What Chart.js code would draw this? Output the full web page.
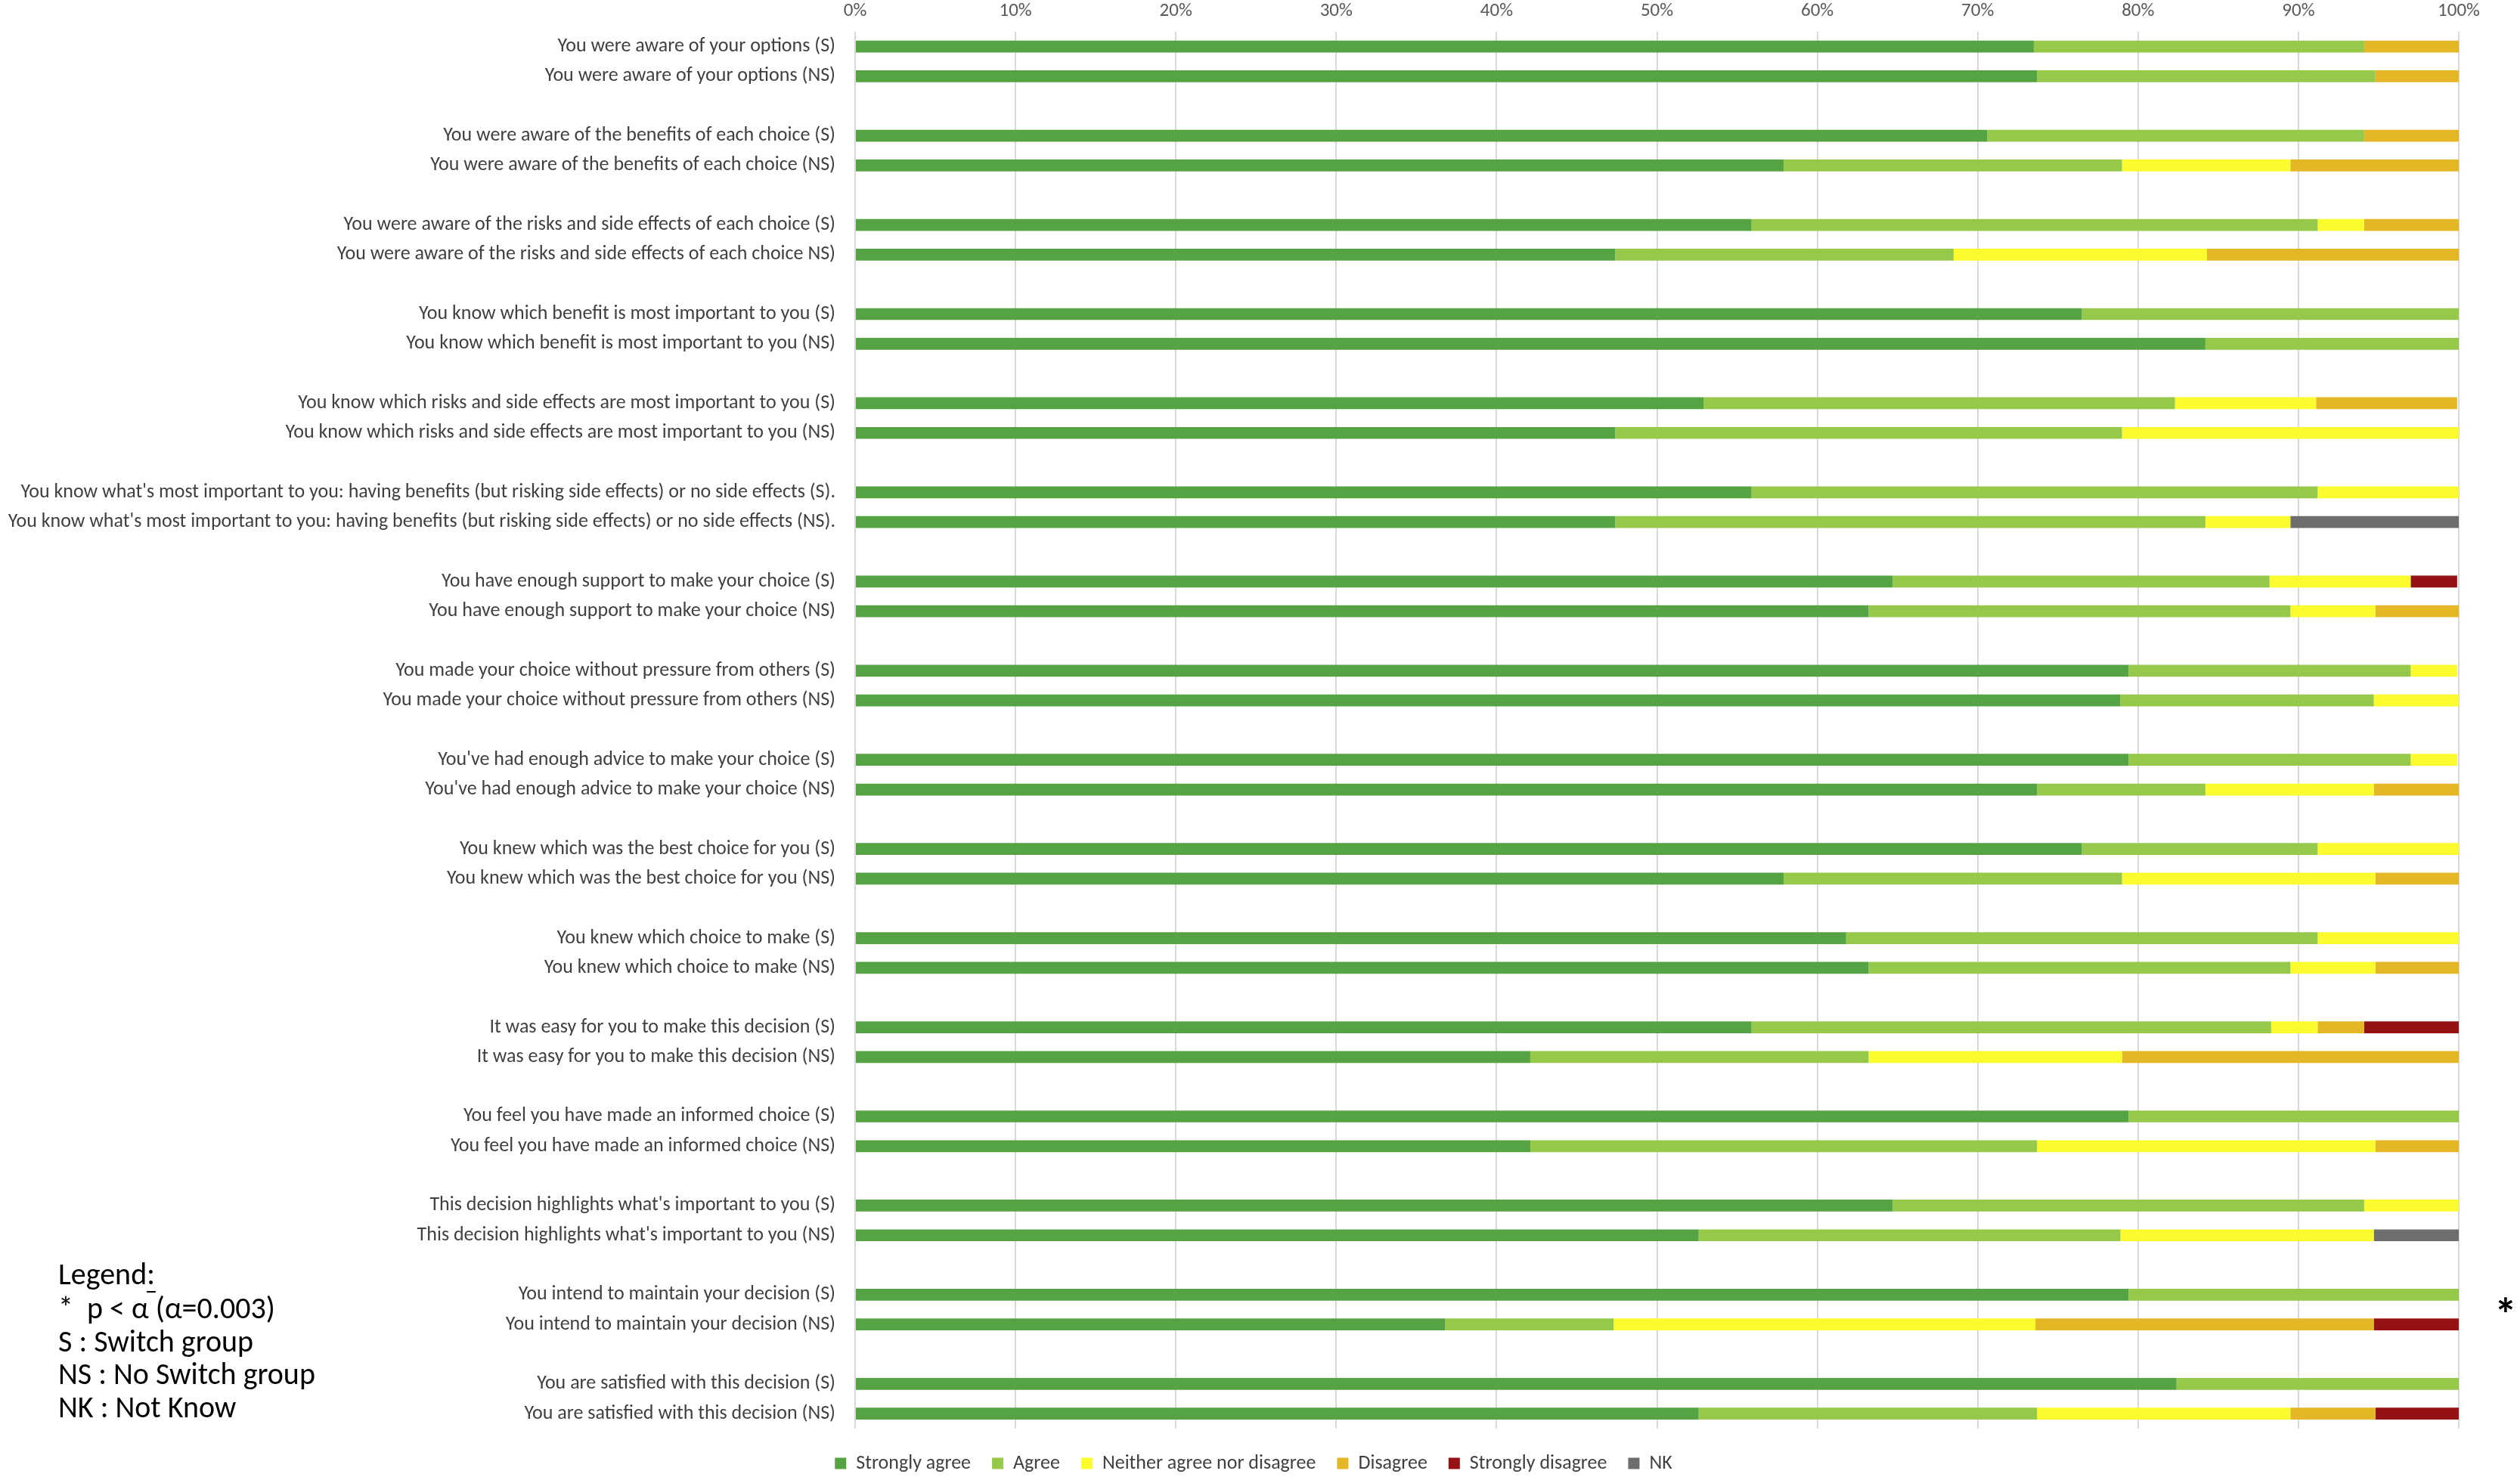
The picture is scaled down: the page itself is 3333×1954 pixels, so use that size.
<!DOCTYPE html>
<html>
<head>
<meta charset="utf-8">
<script src="https://cdn.jsdelivr.net/npm/chart.js@4.4.1/dist/chart.umd.min.js"></script>
<style>
html,body{margin:0;padding:0;background:#fff;}
#wrap{width:3333px;height:1954px;position:relative;}
</style>
</head>
<body>
<div id="wrap"><canvas id="c" width="3333" height="1954"></canvas></div>
<script>
const questions = [
  "You were aware of your options (S)",
  "You were aware of your options (NS)",
  "You were aware of the benefits of each choice (S)",
  "You were aware of the benefits of each choice (NS)",
  "You were aware of the risks and side effects of each choice (S)",
  "You were aware of the risks and side effects of each choice NS)",
  "You know which benefit is most important to you (S)",
  "You know which benefit is most important to you (NS)",
  "You know which risks and side effects are most important to you (S)",
  "You know which risks and side effects are most important to you (NS)",
  "You know what's most important to you: having benefits (but risking side effects) or no side effects (S).",
  "You know what's most important to you: having benefits (but risking side effects) or no side effects (NS).",
  "You have enough support to make your choice (S)",
  "You have enough support to make your choice (NS)",
  "You made your choice without pressure from others (S)",
  "You made your choice without pressure from others (NS)",
  "You've had enough advice to make your choice (S)",
  "You've had enough advice to make your choice (NS)",
  "You knew which was the best choice for you (S)",
  "You knew which was the best choice for you (NS)",
  "You knew which choice to make (S)",
  "You knew which choice to make (NS)",
  "It was easy for you to make this decision (S)",
  "It was easy for you to make this decision (NS)",
  "You feel you have made an informed choice (S)",
  "You feel you have made an informed choice (NS)",
  "This decision highlights what's important to you (S)",
  "This decision highlights what's important to you (NS)",
  "You intend to maintain your decision (S)",
  "You intend to maintain your decision (NS)",
  "You are satisfied with this decision (S)",
  "You are satisfied with this decision (NS)"
];
const seriesNames = ["Strongly agree","Agree","Neither agree nor disagree","Disagree","Strongly disagree","NK"];
const stronglyAgree = [73.5,73.7, 70.6,57.9, 55.9,47.4, 76.5,84.2, 52.9,47.4, 55.9,47.4, 64.7,63.2, 79.4,78.9, 79.4,73.7, 76.5,57.9, 61.8,63.2, 55.9,42.1, 79.4,42.1, 64.7,52.6, 79.4,36.8, 82.4,52.6];
const agree         = [20.6,21.1, 23.5,21.1, 35.3,21.1, 23.5,15.8, 29.4,31.6, 35.3,36.8, 23.5,26.3, 17.6,15.8, 17.6,10.5, 14.7,21.1, 29.4,26.3, 32.4,21.1, 20.6,31.6, 29.4,26.3, 20.6,10.5, 17.6,21.1];
const neither       = [0,0, 0,10.5, 2.9,15.8, 0,0, 8.8,21.1, 8.8,5.3, 8.8,5.3, 2.9,5.3, 2.9,10.5, 8.8,15.8, 8.8,5.3, 2.9,15.8, 0,21.1, 5.9,15.8, 0,26.3, 0,15.8];
const disagree      = [5.9,5.3, 5.9,10.5, 5.9,15.8, 0,0, 8.8,0, 0,0, 0,5.3, 0,0, 0,5.3, 0,5.3, 0,5.3, 2.9,21.1, 0,5.3, 0,0, 0,21.1, 0,5.3];
const stronglyDisagree = [0,0, 0,0, 0,0, 0,0, 0,0, 0,0, 2.9,0, 0,0, 0,0, 0,0, 0,0, 5.9,0, 0,0, 0,0, 0,5.3, 0,5.3];
const notKnow       = [0,0, 0,0, 0,0, 0,0, 0,0, 0,10.5, 0,0, 0,0, 0,0, 0,0, 0,0, 0,0, 0,0, 0,5.3, 0,0, 0,0];
const xTicks = [0,10,20,30,40,50,60,70,80,90,100];
const significantRow = "You intend to maintain your decision (S)";
const legendNotes = ["Legend:", "*  p < \u03b1 (\u03b1=0.003)", "S : Switch group", "NS : No Switch group", "NK : Not Know"];

const colors = ["#56A344","#96C84A","#FBFB2E","#E5B625","#951214","#6E6E6E"];

// Build categories with an empty spacer row between each S/NS pair
const labels = [];
const idxMap = [];
questions.forEach((q,i)=>{
  if (i>0 && i%2===0){ labels.push(""); idxMap.push(-1); }
  labels.push(q); idxMap.push(i);
});
function expand(arr){ return idxMap.map(i => i<0 ? null : arr[i]); }
const allSeries = [stronglyAgree, agree, neither, disagree, stronglyDisagree, notKnow];

const FONT = "Carlito, 'Liberation Sans Narrow', 'Liberation Sans', sans-serif";

const notesPlugin = {
  id:'notes',
  afterDraw(chart){
    const ctx = chart.ctx;
    ctx.save();
    ctx.fillStyle = '#000';
    ctx.font = "40px " + FONT;
    ctx.textBaseline = 'middle';
    ctx.textAlign = 'left';
    const ys = [1689,1734,1778,1821,1865];
    legendNotes.forEach((t,i)=>{ ctx.fillText(t, 77, ys[i]); });
    // underline the colon of "Legend:"
    const wFull = ctx.measureText(legendNotes[0]).width;
    const wNo = ctx.measureText(legendNotes[0].slice(0,-1)).width;
    ctx.fillRect(77 + wNo, ys[0] + 19, wFull - wNo + 1, 2);
    // asterisk next to significant row
    const yScale = chart.scales.y;
    const yi = labels.indexOf(significantRow);
    ctx.font = "bold 60px " + FONT;
    ctx.textAlign = 'center';
    ctx.fillText("*", 3314, yScale.getPixelForValue(yi) + 32);
    ctx.restore();
  }
};

new Chart(document.getElementById('c'), {
  type:'bar',
  data:{
    labels: labels,
    datasets: seriesNames.map((n,k)=>({
      label:n,
      data: expand(allSeries[k]),
      backgroundColor: colors[k],
      borderWidth:0,
      barPercentage:0.4,
      categoryPercentage:1.0
    }))
  },
  options:{
    indexAxis:'y',
    responsive:false,
    animation:false,
    devicePixelRatio:1,
    layout:{padding:{left:0,right:17,top:0,bottom:-5}},
    scales:{
      x:{
        position:'top',
        stacked:true,
        min:0,max:100,
        afterBuildTicks(s){ s.ticks = xTicks.map(v=>({value:v})); },
        afterFit(s){ s.height = 42; },
        ticks:{ callback:v=>v+'%', color:'#595959', font:{family:FONT,size:25}, padding:12 },
        grid:{ color:'#D9D9D9', lineWidth:2, drawTicks:false },
        border:{ display:false }
      },
      y:{
        stacked:true,
        afterFit(s){ s.width = 1131; },
        ticks:{ autoSkip:false, color:'#404040', font:{family:FONT,size:26}, padding:18 },
        grid:{ display:false },
        border:{ display:false }
      },
      yRight:{
        type:'category',
        position:'right',
        labels:[],
        afterFit(s){ s.width = 64; },
        ticks:{ display:false },
        grid:{ display:false },
        border:{ display:false }
      }
    },
    plugins:{
      legend:{
        position:'bottom',
        title:{ display:true, text:' ', font:{size:1}, padding:{top:2,bottom:2} },
        labels:{ boxWidth:15, boxHeight:15, padding:28, color:'#404040', font:{family:FONT,size:26} }
      },
      tooltip:{enabled:false}
    }
  },
  plugins:[notesPlugin]
});
</script>
</body>
</html>
